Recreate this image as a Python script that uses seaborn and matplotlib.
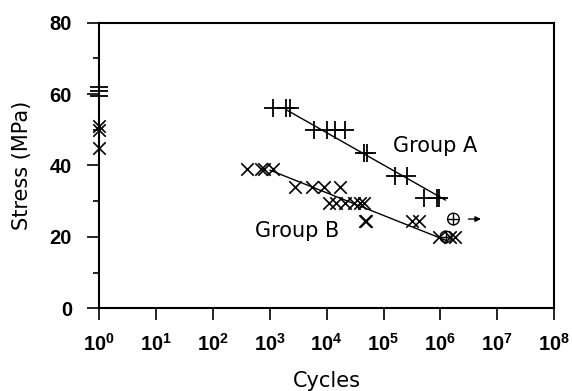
import matplotlib
matplotlib.use("Agg")
import matplotlib.pyplot as plt
import seaborn as sns
import pandas as pd
import numpy as np

# ---- data ----
a_cycles = [1, 1, 1, 1150, 1900, 2300, 5900, 10000, 14000, 21000,
            45000, 52000, 160000, 260000, 510000, 890000, 930000]
a_stress = [59.5, 60.8, 62, 56, 56, 56, 50, 50, 50, 50,
            43.5, 43.5, 37, 37, 31, 31, 31]

b_cycles = [1, 1, 1, 400, 700, 800, 1150, 2800, 5500, 9100, 17000,
            10800, 14700, 21000, 30000, 38000, 45000,
            47000, 50000, 320000, 420000, 950000, 1500000, 1800000]
b_stress = [51, 50, 45, 39, 39, 39, 39, 34, 34, 34, 34,
            29.5, 29.5, 29.5, 29.5, 29.5, 29.5,
            24.5, 24.5, 24.5, 24.5, 20, 20, 20]

runout_cycles = [1700000, 1250000]
runout_stress = [25, 20]

fit_a_cycles = [2000, 1230000]
fit_a_stress = [55.5, 30.3]
fit_b_cycles = [1000, 1320000]
fit_b_stress = [38.7, 18.9]

x_ticks = [10.0 ** k for k in range(0, 9)]
x_tick_labels = [r"$\mathbf{10^{%d}}$" % k for k in range(0, 9)]
y_ticks = [0, 20, 40, 60, 80]
y_tick_labels = ["0", "20", "40", "60", "80"]

# ---- figure ----
sns.set_style("ticks")
plt.rcParams["font.family"] = ["DejaVu Sans"]
plt.rcParams["mathtext.fontset"] = "custom"
plt.rcParams["mathtext.rm"] = "Liberation Sans"
plt.rcParams["mathtext.bf"] = "Liberation Sans:bold"
for key in ["text.color", "axes.labelcolor", "xtick.color", "ytick.color",
            "axes.edgecolor"]:
    plt.rcParams[key] = "black"

fig = plt.figure(figsize=(5.72, 3.91), dpi=100)
ax = fig.add_axes([0.1736, 0.2115, 0.795, 0.7305])

dfa = pd.DataFrame({"cycles": a_cycles, "stress": a_stress})
dfb = pd.DataFrame({"cycles": b_cycles, "stress": b_stress})
dfr = pd.DataFrame({"cycles": runout_cycles, "stress": runout_stress})
dfla = pd.DataFrame({"cycles": fit_a_cycles, "stress": fit_a_stress})
dflb = pd.DataFrame({"cycles": fit_b_cycles, "stress": fit_b_stress})

sns.lineplot(data=dfla, x="cycles", y="stress", color="black", lw=1.0, ax=ax)
sns.lineplot(data=dflb, x="cycles", y="stress", color="black", lw=1.0, ax=ax)

sns.scatterplot(data=dfa, x="cycles", y="stress", marker="+", s=150,
                color="black", linewidth=1.3, ax=ax, clip_on=False, zorder=5)
sns.scatterplot(data=dfb, x="cycles", y="stress", marker="x", s=80,
                color="black", linewidth=1.2, ax=ax, clip_on=False, zorder=5)
sns.scatterplot(data=dfr, x="cycles", y="stress", marker="o", s=70,
                facecolor="none", edgecolor="black", linewidth=1.0, ax=ax, zorder=5)
sns.scatterplot(data=dfr, x="cycles", y="stress", marker="+", s=70,
                color="black", linewidth=1.0, ax=ax, zorder=5)

ax.annotate("", xy=(5.8e6, 25), xytext=(2.8e6, 25),
            arrowprops=dict(arrowstyle="-|>", color="black", lw=1.0,
                            mutation_scale=8))

ax.text(1.48e5, 43.7, "Group A", fontsize=15, va="baseline", ha="left")
ax.text(5.5e2, 19.9, "Group B", fontsize=15, va="baseline", ha="left")

ax.set_xscale("log")
ax.set_xlim(1, 1e8)
ax.set_ylim(0, 80)
ax.set_xticks(x_ticks)
ax.set_xticklabels(x_tick_labels)
ax.xaxis.set_minor_locator(matplotlib.ticker.NullLocator())
ax.set_yticks(y_ticks)
ax.set_yticklabels(y_tick_labels, fontfamily="Liberation Sans", fontweight="bold")
ax.set_yticks([10, 30, 50, 70], minor=True)

ax.tick_params(axis="both", which="major", direction="out", length=8.6,
               width=1.2, labelsize=14.5, color="black")
ax.tick_params(axis="y", which="major", pad=11)
ax.tick_params(axis="y", which="minor", direction="out", length=4.3, width=1.2)
ax.tick_params(axis="x", which="major", pad=9)

for sp in ax.spines.values():
    sp.set_linewidth(1.5)
    sp.set_color("black")

ax.set_xlabel("Cycles", fontsize=15, labelpad=12)
ax.set_ylabel("Stress (MPa)", fontsize=15, labelpad=13)

fig.savefig("out.png", dpi=100)
